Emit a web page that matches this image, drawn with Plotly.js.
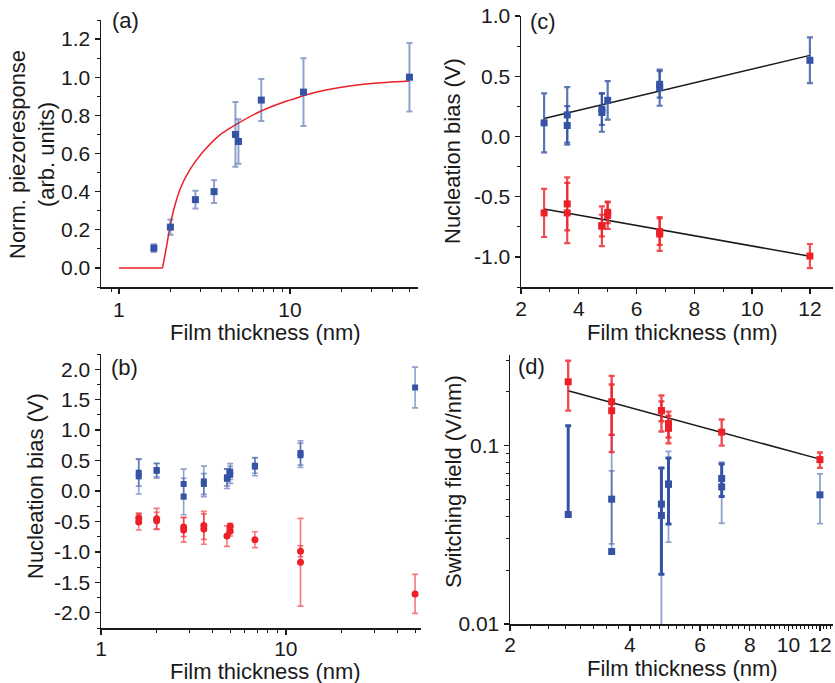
<!DOCTYPE html>
<html>
<head>
<meta charset="utf-8">
<script src="https://cdn.plot.ly/plotly-3.0.1.min.js"></script>
<style>html,body{margin:0;padding:0;background:#fff}#chart{width:835px;height:683px}</style>
</head>
<body>
<div id="chart"></div>
<script>
// ---------- Panel (a): normalized piezoresponse ----------
var aThick = [1.6, 2.0, 2.8, 3.6, 4.8, 5.0, 6.8, 12, 50];
var aResp  = [0.104, 0.214, 0.358, 0.40, 0.70, 0.663, 0.88, 0.922, 1.0];
var aErr   = [0.02, 0.04, 0.047, 0.06, 0.17, 0.117, 0.11, 0.178, 0.18];
var aFitX  = [1.0, 1.8, 1.9, 1.99, 2.08, 2.27, 2.6, 3.11, 3.9, 4.88, 6.68, 9.14, 10, 13.09, 20, 30, 50];
var aFitY  = [0, 0, 0.115, 0.219, 0.297, 0.41, 0.515, 0.61, 0.698, 0.754, 0.82, 0.869, 0.88, 0.913, 0.947, 0.967, 0.98];

// ---------- Panel (b): nucleation bias, log thickness ----------
var bThickPos = [1.6, 1.6, 2.0, 2.0, 2.8, 2.8, 3.6, 3.6, 4.8, 4.8, 5.0, 5.0, 6.8, 6.8, 12, 12, 50];
var bBiasPos  = [0.30, 0.24, 0.345, 0.33, 0.115, -0.09, 0.158, 0.115, 0.224, 0.20, 0.32, 0.265, 0.416, 0.40, 0.625, 0.587, 1.70];
var bErrPos   = [0.22, 0.29, 0.11, 0.12, 0.245, 0.30, 0.25, 0.17, 0.14, 0.16, 0.13, 0.14, 0.125, 0.15, 0.20, 0.20, 0.335];
var bThickNeg = [1.6, 1.6, 2.0, 2.0, 2.8, 2.8, 3.6, 3.6, 4.8, 5.0, 5.0, 6.8, 12, 12, 50];
var bBiasNeg  = [-0.444, -0.51, -0.455, -0.49, -0.59, -0.64, -0.565, -0.625, -0.74, -0.58, -0.66, -0.80, -0.99, -1.17, -1.69];
var bErrNeg   = [0.08, 0.13, 0.17, 0.14, 0.16, 0.20, 0.23, 0.25, 0.17, 0.05, 0.08, 0.13, 0.09, 0.72, 0.32];

// ---------- Panel (c): nucleation bias, linear thickness ----------
var cThickPos = [2.8, 3.6, 3.6, 4.8, 4.8, 5.0, 6.8, 6.8, 12];
var cBiasPos  = [0.113, 0.179, 0.091, 0.226, 0.199, 0.30, 0.433, 0.405, 0.632];
var cErrPos   = [0.245, 0.23, 0.16, 0.13, 0.16, 0.16, 0.11, 0.15, 0.19];
var cThickNeg = [2.8, 3.6, 3.6, 4.8, 4.8, 5.0, 5.0, 6.8, 6.8, 12];
var cBiasNeg  = [-0.635, -0.56, -0.635, -0.745, -0.74, -0.63, -0.657, -0.79, -0.81, -0.993];
var cErrNeg   = [0.20, 0.22, 0.25, 0.165, 0.09, 0.09, 0.11, 0.11, 0.14, 0.10];
var cFitX     = [2.8, 12];
var cFitPos   = [0.149, 0.673];
var cFitNeg   = [-0.602, -0.995];

// ---------- Panel (d): switching field ----------
var dThickNeg     = [2.8, 3.6, 3.6, 4.8, 4.8, 5.0, 5.0, 6.8, 12];
var dFieldNeg     = [0.228, 0.176, 0.157, 0.157, 0.157, 0.133, 0.125, 0.119, 0.0835];
var dErrNegUp     = [0.071, 0.07, 0.063, 0.034, 0.02, 0.022, 0.022, 0.021, 0.008];
var dErrNegDown   = [0.071, 0.061, 0.065, 0.037, 0.02, 0.022, 0.022, 0.019, 0.0085];
var dThickPosA    = [2.8, 4.8, 5.0, 6.8];
var dFieldPosA    = [0.0411, 0.047, 0.0608, 0.0654];
var dErrPosAUp    = [0.088, 0.028, 0.0245, 0.0135];
var dErrPosADown  = [0, 0.028, 0.0245, 0.0135];
var dThickPosB    = [3.6, 3.6, 4.8, 5.0, 6.8, 12];
var dFieldPosB    = [0.0501, 0.0255, 0.0406, 0.0608, 0.0587, 0.053];
var dErrPosBUp    = [0.022, 0.0895, 0.034, 0.032, 0.022, 0.0165];
var dErrPosBDown  = [0.022, 0, 0.045, 0.032, 0.022, 0.0165];
var dFitX         = [2.8, 12];
var dFitY         = [0.203, 0.084];

// ---------- Tick labels ----------
var logTickVals   = [1, 10];
var logTickText   = ['1', '10'];
var aYTickVals    = [0, 0.2, 0.4, 0.6, 0.8, 1.0, 1.2];
var aYTickText    = ['0.0', '0.2', '0.4', '0.6', '0.8', '1.0', '1.2'];
var bYTickVals    = [-2, -1.5, -1, -0.5, 0, 0.5, 1, 1.5, 2];
var bYTickText    = ['-2.0', '-1.5', '-1.0', '-0.5', '0.0', '0.5', '1.0', '1.5', '2.0'];
var cXTickVals    = [2, 4, 6, 8, 10, 12];
var cXTickText    = ['2', '4', '6', '8', '10', '12'];
var cYTickVals    = [-1, -0.5, 0, 0.5, 1];
var cYTickText    = ['-1.0', '-0.5', '0.0', '0.5', '1.0'];
var dXTickVals    = [2, 4, 6, 8, 10, 12];
var dXTickText    = ['2', '4', '6', '8', '10', '12'];
var dYTickVals    = [0.01, 0.1];
var dYTickText    = ['0.01', '0.1'];

var BLUE = '#3453a4';
var BLUE_L = 'rgba(52,83,164,0.55)';
var RED = '#ec2028';
var RED_L = 'rgba(236,32,40,0.8)';
var INK = '#1a1a1a';
var FONT = 'Liberation Sans, Arial, Helvetica, sans-serif';

function pts(x, y, up, down, xa, ya, color, symbol, size, ecolor, ethick) {
  var ey = {type: 'data', array: up, visible: true, color: ecolor, thickness: ethick, width: 3};
  if (down) { ey.symmetric = false; ey.arrayminus = down; }
  return {x: x, y: y, xaxis: xa, yaxis: ya, type: 'scatter', mode: 'markers',
    marker: {color: color, symbol: symbol, size: size, line: {width: 0}},
    error_y: ey, showlegend: false, hoverinfo: 'skip'};
}
function line(x, y, xa, ya, color, w, shape) {
  return {x: x, y: y, xaxis: xa, yaxis: ya, type: 'scatter', mode: 'lines',
    line: {color: color, width: w, shape: shape || 'linear', smoothing: 0.8}, showlegend: false, hoverinfo: 'skip'};
}

var traces = [
  line(aFitX.slice(0, 2), aFitY.slice(0, 2), 'x', 'y', RED, 1.5),
  line(aFitX.slice(1), aFitY.slice(1), 'x', 'y', RED, 1.5, 'spline'),
  pts(aThick, aResp, aErr, null, 'x', 'y', BLUE, 'square', 7, BLUE_L, 2),

  line(cFitX, cFitPos, 'x2', 'y2', INK, 1.5),
  line(cFitX, cFitNeg, 'x2', 'y2', INK, 1.5),
  pts(cThickPos, cBiasPos, cErrPos, null, 'x2', 'y2', BLUE, 'square', 7, 'rgba(52,83,164,0.8)', 2.2),
  pts(cThickNeg, cBiasNeg, cErrNeg, null, 'x2', 'y2', RED, 'square', 7, RED_L, 2.2),

  pts(bThickPos, bBiasPos, bErrPos, null, 'x3', 'y3', BLUE, 'square', 6, BLUE_L, 1.6),
  pts(bThickNeg, bBiasNeg, bErrNeg, null, 'x3', 'y3', RED, 'circle', 7, 'rgba(236,32,40,0.6)', 1.6),

  line(dFitX, dFitY, 'x4', 'y4', INK, 1.5),
  pts(dThickPosB, dFieldPosB, dErrPosBUp, dErrPosBDown, 'x4', 'y4', BLUE, 'square', 7, BLUE_L, 1.8),
  pts(dThickPosA, dFieldPosA, dErrPosAUp, dErrPosADown, 'x4', 'y4', BLUE, 'square', 7, BLUE, 3),
  pts(dThickNeg, dFieldNeg, dErrNegUp, dErrNegDown, 'x4', 'y4', RED, 'square', 7, RED_L, 2.4)
];

function px(x) { return x / 835; }
function py(y) { return 1 - y / 683; }

function axis(d, extra) {
  var o = {domain: d, showline: true, linecolor: INK, linewidth: 1.5, mirror: false,
    ticks: 'outside', ticklen: 5, tickwidth: 1.3, tickcolor: INK, showgrid: false, zeroline: false,
    tickfont: {family: FONT, size: 21, color: INK}, tickmode: 'array', fixedrange: true};
  for (var k in extra) o[k] = extra[k];
  return o;
}
function minorArr(v) {
  return {ticks: 'outside', ticklen: 3, tickwidth: 1, tickcolor: INK, showgrid: false, tickmode: 'array', tickvals: v};
}
function minorD(dt, t0) {
  return {ticks: 'outside', ticklen: 3, tickwidth: 1, tickcolor: INK, showgrid: false, dtick: dt, tick0: t0};
}

var logMinor = [0.9, 2, 3, 4, 5, 6, 7, 8, 9, 20, 30, 40, 50];
var dMinor = [];
for (var t = 2.25; t < 12.9; t += 0.25) { if (Math.abs(t - Math.round(t)) > 1e-6 || Math.round(t) % 2 === 1) dMinor.push(+t.toFixed(2)); }
var dYMinor = [0.02, 0.03, 0.04, 0.05, 0.06, 0.07, 0.08, 0.09, 0.2, 0.3];

var layout = {
  width: 835, height: 683,
  margin: {l: 0, r: 0, t: 0, b: 0},
  paper_bgcolor: '#fff', plot_bgcolor: '#fff',
  font: {family: FONT, color: INK},
  showlegend: false,
  xaxis: axis([px(101), px(418)], {anchor: 'y', type: 'log', range: [-0.105, 1.749], ticklabelstandoff: -2,
    tickvals: logTickVals, ticktext: logTickText, minor: minorArr(logMinor)}),
  yaxis: axis([py(287), py(20)], {anchor: 'x', range: [-0.1, 1.3],
    tickvals: aYTickVals, ticktext: aYTickText, minor: minorD(0.1, 0)}),
  xaxis2: axis([px(521), px(833)], {anchor: 'y2', range: [2, 12.8], ticklabelstandoff: -3,
    tickvals: cXTickVals, ticktext: cXTickText, minor: minorD(1, 0)}),
  yaxis2: axis([py(287), py(16)], {anchor: 'x2', range: [-1.25, 1.0],
    tickvals: cYTickVals, ticktext: cYTickText, minor: minorD(0.25, 0)}),
  xaxis3: axis([px(101), px(421)], {anchor: 'y3', type: 'log', range: [0, 1.731], ticklabelstandoff: -4,
    tickvals: logTickVals, ticktext: logTickText, minor: minorArr(logMinor)}),
  yaxis3: axis([py(628), py(354)], {anchor: 'x3', range: [-2.25, 2.25],
    tickvals: bYTickVals, ticktext: bYTickText, minor: minorD(0.25, 0)}),
  xaxis4: axis([px(510), px(833)], {anchor: 'y4', type: 'log', range: [Math.log10(2), 1.112], ticklabelstandoff: -4,
    tickvals: dXTickVals, ticktext: dXTickText, minor: minorArr(dMinor)}),
  yaxis4: axis([py(624), py(355)], {anchor: 'x4', type: 'log', range: [-2, -0.492],
    tickvals: dYTickVals, ticktext: dYTickText, minor: minorArr(dYMinor)}),
  annotations: []
};

function label(text, x, y, angle) {
  layout.annotations.push({text: text, xref: 'paper', yref: 'paper', x: px(x), y: py(y),
    xanchor: 'center', yanchor: 'middle', showarrow: false, textangle: angle || 0,
    font: {family: FONT, size: 22, color: INK}});
}
label('(a)', 126, 20);
label('(c)', 543, 22);
label('(b)', 125, 367);
label('(d)', 531, 366);
label('Film thickness (nm)', 265, 332);
label('Film thickness (nm)', 682, 332);
label('Film thickness (nm)', 265, 671);
label('Film thickness (nm)', 682, 668);
label('Norm. piezoresponse<br>(arb. units)', 32, 155, -90);
label('Nucleation bias (V)', 453, 151, -90);
label('Nucleation bias (V)', 35, 486, -90);
label('Switching field (V/nm)', 453, 482, -90);

Plotly.newPlot('chart', traces, layout, {displayModeBar: false, staticPlot: true});
</script>
</body>
</html>
